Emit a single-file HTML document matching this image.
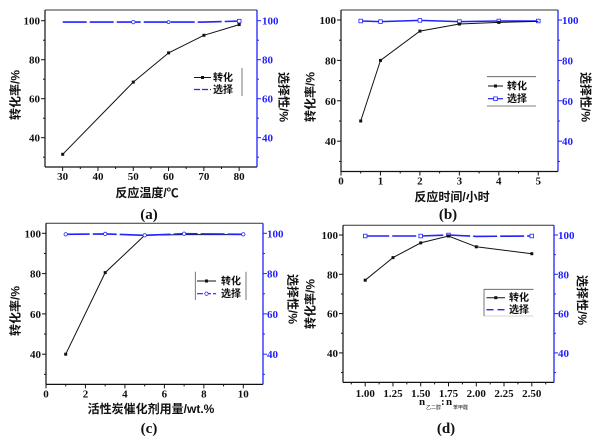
<!DOCTYPE html>
<html><head><meta charset="utf-8">
<style>
html,body{margin:0;padding:0;background:#fff;}
svg{display:block;}
.tk{font-family:"Liberation Serif",serif;font-weight:bold;font-size:11px;}
.ti{font-family:"Liberation Sans","Noto Sans CJK SC",sans-serif;font-size:12px;font-weight:bold;fill:#111;}
.lg{font-family:"Liberation Sans","Noto Sans CJK SC",sans-serif;font-size:10px;font-weight:bold;fill:#111;}
.cap{font-family:"Liberation Serif","Noto Serif CJK SC",serif;font-size:15px;font-weight:bold;fill:#111;}
</style></head>
<body>
<svg width="600" height="443" viewBox="0 0 600 443" xmlns="http://www.w3.org/2000/svg">
<rect width="600" height="443" fill="#fff"/>

<!-- ================= PANEL A ================= -->
<g>
<line x1="45" y1="10" x2="257" y2="10" stroke="#333" stroke-width="1"/>
<line x1="45" y1="10" x2="45" y2="167" stroke="#111" stroke-width="1.2"/>
<line x1="45" y1="167" x2="257" y2="167" stroke="#111" stroke-width="1.2"/>
<line x1="257" y1="10" x2="257" y2="167" stroke="#2222ff" stroke-width="1.3"/>
<g stroke="#111" stroke-width="1">
<line x1="41" y1="20.7" x2="45" y2="20.7"/><line x1="41" y1="59.7" x2="45" y2="59.7"/><line x1="41" y1="98.7" x2="45" y2="98.7"/><line x1="41" y1="137.7" x2="45" y2="137.7"/>
<line x1="43" y1="40.2" x2="45" y2="40.2"/><line x1="43" y1="79.2" x2="45" y2="79.2"/><line x1="43" y1="118.2" x2="45" y2="118.2"/><line x1="43" y1="157.2" x2="45" y2="157.2"/>
<line x1="62.65" y1="167" x2="62.65" y2="171"/><line x1="97.95" y1="167" x2="97.95" y2="171"/><line x1="133.25" y1="167" x2="133.25" y2="171"/><line x1="168.55" y1="167" x2="168.55" y2="171"/><line x1="203.85" y1="167" x2="203.85" y2="171"/><line x1="239.15" y1="167" x2="239.15" y2="171"/>
<line x1="80.3" y1="167" x2="80.3" y2="169"/><line x1="115.6" y1="167" x2="115.6" y2="169"/><line x1="150.9" y1="167" x2="150.9" y2="169"/><line x1="186.2" y1="167" x2="186.2" y2="169"/><line x1="221.5" y1="167" x2="221.5" y2="169"/>
</g>
<g stroke="#2222ff" stroke-width="1">
<line x1="257" y1="20.7" x2="261" y2="20.7"/><line x1="257" y1="59.7" x2="261" y2="59.7"/><line x1="257" y1="98.7" x2="261" y2="98.7"/><line x1="257" y1="137.7" x2="261" y2="137.7"/>
<line x1="257" y1="40.2" x2="259" y2="40.2"/><line x1="257" y1="79.2" x2="259" y2="79.2"/><line x1="257" y1="118.2" x2="259" y2="118.2"/><line x1="257" y1="157.2" x2="259" y2="157.2"/>
</g>
<g class="tk" fill="#111" text-anchor="end">
<text x="40" y="24.5">100</text><text x="40" y="63.5">80</text><text x="40" y="102.5">60</text><text x="40" y="141.5">40</text>
</g>
<g class="tk" fill="#2222ff">
<text x="262" y="24.5">100</text><text x="262" y="63.5">80</text><text x="262" y="102.5">60</text><text x="262" y="141.5">40</text>
</g>
<g class="tk" fill="#111" text-anchor="middle">
<text x="62.65" y="180">30</text><text x="97.95" y="180">40</text><text x="133.25" y="180">50</text><text x="168.55" y="180">60</text><text x="203.85" y="180">70</text><text x="239.15" y="180">80</text>
</g>
<polyline points="62.7,22.1 133.3,22.1 168.6,22.1 203.9,22.1 239.2,21.1" fill="none" stroke="#2222ff" stroke-width="1.6" stroke-dasharray="24,3"/>
<g fill="#fff" stroke="#2222ff" stroke-width="0.8"><circle cx="133.3" cy="22.1" r="1.7"/><circle cx="168.6" cy="22.1" r="1.5"/><rect x="237.4" y="19.3" width="3.6" height="3.6"/></g>
<polyline points="62.7,154.3 133.3,82.1 168.6,52.9 203.9,35.3 239.2,24.6" fill="none" stroke="#111" stroke-width="1"/>
<g fill="#111"><rect x="61.2" y="152.8" width="3" height="3"/><rect x="131.8" y="80.6" width="3" height="3"/><rect x="167.1" y="51.4" width="3" height="3"/><rect x="202.4" y="33.8" width="3" height="3"/><rect x="237.7" y="23.1" width="3" height="3"/></g>
<line x1="242" y1="68" x2="242" y2="96" stroke="#555" stroke-width="0.8"/>
<line x1="194" y1="77.5" x2="211" y2="77.5" stroke="#111" stroke-width="1"/><rect x="201" y="76" width="3" height="3" fill="#111"/>
<text class="lg" x="213" y="81">转化</text>
<line x1="194" y1="89.5" x2="211" y2="89.5" stroke="#2222ff" stroke-width="1.2" stroke-dasharray="6,2"/>
<text class="lg" x="213" y="93">选择</text>
<text class="ti" transform="translate(19.5,95) rotate(-90)" text-anchor="middle">转化率/%</text>
<text class="ti" transform="translate(279.5,97) rotate(90)" text-anchor="middle">选择性/%</text>
<text class="ti" x="147" y="197" text-anchor="middle">反应温度/℃</text>
<text class="cap" x="149" y="219" text-anchor="middle">(a)</text>
</g>

<!-- ================= PANEL B ================= -->
<g>
<line x1="341" y1="10" x2="558" y2="10" stroke="#333" stroke-width="1"/>
<line x1="341" y1="10" x2="341" y2="171.5" stroke="#111" stroke-width="1.2"/>
<line x1="341" y1="171.5" x2="558" y2="171.5" stroke="#111" stroke-width="1.2"/>
<line x1="558" y1="10" x2="558" y2="171.5" stroke="#2222ff" stroke-width="1.3"/>
<g stroke="#111" stroke-width="1">
<line x1="337" y1="20" x2="341" y2="20"/><line x1="337" y1="60.4" x2="341" y2="60.4"/><line x1="337" y1="100.8" x2="341" y2="100.8"/><line x1="337" y1="141.2" x2="341" y2="141.2"/>
<line x1="339" y1="40.2" x2="341" y2="40.2"/><line x1="339" y1="80.6" x2="341" y2="80.6"/><line x1="339" y1="121" x2="341" y2="121"/><line x1="339" y1="161.4" x2="341" y2="161.4"/>
<line x1="341" y1="171.5" x2="341" y2="175.5"/><line x1="380.45" y1="171.5" x2="380.45" y2="175.5"/><line x1="419.9" y1="171.5" x2="419.9" y2="175.5"/><line x1="459.35" y1="171.5" x2="459.35" y2="175.5"/><line x1="498.8" y1="171.5" x2="498.8" y2="175.5"/><line x1="538.25" y1="171.5" x2="538.25" y2="175.5"/>
<line x1="360.7" y1="171.5" x2="360.7" y2="173.5"/><line x1="400.2" y1="171.5" x2="400.2" y2="173.5"/><line x1="439.6" y1="171.5" x2="439.6" y2="173.5"/><line x1="479.1" y1="171.5" x2="479.1" y2="173.5"/><line x1="518.5" y1="171.5" x2="518.5" y2="173.5"/>
</g>
<g stroke="#2222ff" stroke-width="1">
<line x1="558" y1="20" x2="562" y2="20"/><line x1="558" y1="60.4" x2="562" y2="60.4"/><line x1="558" y1="100.8" x2="562" y2="100.8"/><line x1="558" y1="141.2" x2="562" y2="141.2"/>
<line x1="558" y1="40.2" x2="560" y2="40.2"/><line x1="558" y1="80.6" x2="560" y2="80.6"/><line x1="558" y1="121" x2="560" y2="121"/><line x1="558" y1="161.4" x2="560" y2="161.4"/>
</g>
<g class="tk" fill="#111" text-anchor="end">
<text x="336" y="24">100</text><text x="336" y="64.4">80</text><text x="336" y="104.8">60</text><text x="336" y="145.2">40</text>
</g>
<g class="tk" fill="#2222ff">
<text x="562" y="24">100</text><text x="562" y="64.4">80</text><text x="562" y="104.8">60</text><text x="562" y="145.2">40</text>
</g>
<g class="tk" fill="#111" text-anchor="middle">
<text x="341" y="184.5">0</text><text x="380.45" y="184.5">1</text><text x="419.9" y="184.5">2</text><text x="459.35" y="184.5">3</text><text x="498.8" y="184.5">4</text><text x="538.25" y="184.5">5</text>
</g>
<polyline points="360.7,21 380.5,21.6 419.9,20.4 459.4,21.6 498.8,21 538.3,21" fill="none" stroke="#2222ff" stroke-width="1.5"/>
<g fill="#fff" stroke="#2222ff" stroke-width="0.8"><rect x="358.9" y="19.2" width="3.6" height="3.6"/><rect x="378.7" y="19.8" width="3.6" height="3.6"/><rect x="418.1" y="18.6" width="3.6" height="3.6"/><rect x="457.6" y="19.8" width="3.6" height="3.6"/><rect x="497" y="19.2" width="3.6" height="3.6"/><rect x="536.5" y="19.2" width="3.6" height="3.6"/></g>
<polyline points="360.7,121 380.5,60.4 419.9,31.1 459.4,24 498.8,22.4 538.3,21.4" fill="none" stroke="#111" stroke-width="1"/>
<g fill="#111"><rect x="359.2" y="119.5" width="3" height="3"/><rect x="379" y="58.9" width="3" height="3"/><rect x="418.4" y="29.6" width="3" height="3"/><rect x="457.9" y="22.5" width="3" height="3"/><rect x="497.3" y="20.9" width="3" height="3"/></g>
<line x1="487" y1="76.7" x2="536" y2="76.7" stroke="#555" stroke-width="0.8"/>
<line x1="487" y1="106" x2="536" y2="106" stroke="#555" stroke-width="0.8"/>
<line x1="488" y1="86" x2="503" y2="86" stroke="#111" stroke-width="1"/><rect x="494" y="84.5" width="3" height="3" fill="#111"/>
<text class="lg" x="507" y="89.5">转化</text>
<line x1="488" y1="98.7" x2="503" y2="98.7" stroke="#2222ff" stroke-width="1.2"/><rect x="493.7" y="96.9" width="3.6" height="3.6" fill="#fff" stroke="#2222ff" stroke-width="0.8"/>
<text class="lg" x="507" y="102.2">选择</text>
<text class="ti" transform="translate(314.5,97) rotate(-90)" text-anchor="middle">转化率/%</text>
<text class="ti" transform="translate(581.5,97) rotate(90)" text-anchor="middle">选择性/%</text>
<text class="ti" x="452" y="201" text-anchor="middle">反应时间/小时</text>
<text class="cap" x="448" y="219" text-anchor="middle">(b)</text>
</g>

<!-- ================= PANEL C ================= -->
<g>
<line x1="46" y1="223.2" x2="263" y2="223.2" stroke="#333" stroke-width="1"/>
<line x1="46" y1="223.2" x2="46" y2="384.4" stroke="#111" stroke-width="1.2"/>
<line x1="46" y1="384.4" x2="263" y2="384.4" stroke="#111" stroke-width="1.2"/>
<line x1="263" y1="223.2" x2="263" y2="384.4" stroke="#2222ff" stroke-width="1.3"/>
<g stroke="#111" stroke-width="1">
<line x1="42" y1="233.3" x2="46" y2="233.3"/><line x1="42" y1="273.6" x2="46" y2="273.6"/><line x1="42" y1="313.9" x2="46" y2="313.9"/><line x1="42" y1="354.2" x2="46" y2="354.2"/>
<line x1="44" y1="253.45" x2="46" y2="253.45"/><line x1="44" y1="293.75" x2="46" y2="293.75"/><line x1="44" y1="334.05" x2="46" y2="334.05"/><line x1="44" y1="374.35" x2="46" y2="374.35"/>
<line x1="46" y1="384.4" x2="46" y2="388.4"/><line x1="85.46" y1="384.4" x2="85.46" y2="388.4"/><line x1="124.92" y1="384.4" x2="124.92" y2="388.4"/><line x1="164.38" y1="384.4" x2="164.38" y2="388.4"/><line x1="203.84" y1="384.4" x2="203.84" y2="388.4"/><line x1="243.3" y1="384.4" x2="243.3" y2="388.4"/>
<line x1="65.73" y1="384.4" x2="65.73" y2="386.4"/><line x1="105.19" y1="384.4" x2="105.19" y2="386.4"/><line x1="144.65" y1="384.4" x2="144.65" y2="386.4"/><line x1="184.11" y1="384.4" x2="184.11" y2="386.4"/><line x1="223.57" y1="384.4" x2="223.57" y2="386.4"/>
</g>
<g stroke="#2222ff" stroke-width="1">
<line x1="263" y1="233.3" x2="267" y2="233.3"/><line x1="263" y1="273.6" x2="267" y2="273.6"/><line x1="263" y1="313.9" x2="267" y2="313.9"/><line x1="263" y1="354.2" x2="267" y2="354.2"/>
<line x1="263" y1="253.45" x2="265" y2="253.45"/><line x1="263" y1="293.75" x2="265" y2="293.75"/><line x1="263" y1="334.05" x2="265" y2="334.05"/><line x1="263" y1="374.35" x2="265" y2="374.35"/>
</g>
<g class="tk" fill="#111" text-anchor="end">
<text x="41" y="237.3">100</text><text x="41" y="277.6">80</text><text x="41" y="317.9">60</text><text x="41" y="358.2">40</text>
</g>
<g class="tk" fill="#2222ff">
<text x="267" y="237.3">100</text><text x="267" y="277.6">80</text><text x="267" y="317.9">60</text><text x="267" y="358.2">40</text>
</g>
<g class="tk" fill="#111" text-anchor="middle">
<text x="46" y="397.5">0</text><text x="85.46" y="397.5">2</text><text x="124.92" y="397.5">4</text><text x="164.38" y="397.5">6</text><text x="203.84" y="397.5">8</text><text x="243.3" y="397.5">10</text>
</g>
<polyline points="65.7,354.2 105.2,272.6 144.7,235.3 184.1,234.6 243.3,234.6" fill="none" stroke="#111" stroke-width="1"/>
<g fill="#111"><rect x="64.2" y="352.7" width="3" height="3"/><rect x="103.7" y="271.1" width="3" height="3"/><rect x="143.2" y="233.8" width="3" height="3"/></g>
<polyline points="65.7,234.3 105.2,233.9 144.7,235.3 184.1,233.7 243.3,234.3" fill="none" stroke="#2222ff" stroke-width="1.6" stroke-dasharray="24,3"/>
<g fill="#fff" stroke="#2222ff" stroke-width="0.8"><circle cx="65.7" cy="234.3" r="1.7"/><circle cx="105.2" cy="233.9" r="1.7"/><circle cx="144.7" cy="235.3" r="1.7"/><circle cx="184.1" cy="233.7" r="1.7"/><circle cx="243.3" cy="234.3" r="1.7"/></g>
<line x1="195.3" y1="271.7" x2="195.3" y2="300" stroke="#555" stroke-width="0.8"/>
<line x1="246" y1="271.7" x2="246" y2="300" stroke="#555" stroke-width="0.8"/>
<line x1="197" y1="281" x2="216" y2="281" stroke="#111" stroke-width="1"/><rect x="205" y="279.5" width="3" height="3" fill="#111"/>
<text class="lg" x="221" y="284.5">转化</text>
<line x1="197" y1="293.7" x2="216" y2="293.7" stroke="#2222ff" stroke-width="1.2" stroke-dasharray="6,2"/><circle cx="206.5" cy="293.7" r="1.7" fill="#fff" stroke="#2222ff" stroke-width="0.8"/>
<text class="lg" x="221" y="297.2">选择</text>
<text class="ti" transform="translate(19.5,311) rotate(-90)" text-anchor="middle">转化率/%</text>
<text class="ti" transform="translate(288.5,299) rotate(90)" text-anchor="middle">选择性/%</text>
<text class="ti" x="151" y="413" text-anchor="middle">活性炭催化剂用量/wt.%</text>
<text class="cap" x="149" y="433" text-anchor="middle">(c)</text>
</g>

<!-- ================= PANEL D ================= -->
<g>
<line x1="343" y1="225.2" x2="554" y2="225.2" stroke="#333" stroke-width="1"/>
<line x1="343" y1="225.2" x2="343" y2="382.4" stroke="#111" stroke-width="1.2"/>
<line x1="343" y1="382.4" x2="554" y2="382.4" stroke="#111" stroke-width="1.2"/>
<line x1="554" y1="225.2" x2="554" y2="382.4" stroke="#2222ff" stroke-width="1.3"/>
<g stroke="#111" stroke-width="1">
<line x1="339" y1="235" x2="343" y2="235"/><line x1="339" y1="274.3" x2="343" y2="274.3"/><line x1="339" y1="313.6" x2="343" y2="313.6"/><line x1="339" y1="352.9" x2="343" y2="352.9"/>
<line x1="341" y1="254.65" x2="343" y2="254.65"/><line x1="341" y1="293.95" x2="343" y2="293.95"/><line x1="341" y1="333.25" x2="343" y2="333.25"/><line x1="341" y1="372.55" x2="343" y2="372.55"/>
<line x1="365.2" y1="382.4" x2="365.2" y2="386.4"/><line x1="392.97" y1="382.4" x2="392.97" y2="386.4"/><line x1="420.7" y1="382.4" x2="420.7" y2="386.4"/><line x1="448.5" y1="382.4" x2="448.5" y2="386.4"/><line x1="476.3" y1="382.4" x2="476.3" y2="386.4"/><line x1="504" y1="382.4" x2="504" y2="386.4"/><line x1="531.8" y1="382.4" x2="531.8" y2="386.4"/>
<line x1="351.3" y1="382.4" x2="351.3" y2="384.4"/><line x1="379.1" y1="382.4" x2="379.1" y2="384.4"/><line x1="406.8" y1="382.4" x2="406.8" y2="384.4"/><line x1="434.6" y1="382.4" x2="434.6" y2="384.4"/><line x1="462.4" y1="382.4" x2="462.4" y2="384.4"/><line x1="490.2" y1="382.4" x2="490.2" y2="384.4"/><line x1="517.9" y1="382.4" x2="517.9" y2="384.4"/><line x1="545.7" y1="382.4" x2="545.7" y2="384.4"/>
</g>
<g stroke="#2222ff" stroke-width="1">
<line x1="554" y1="235" x2="558" y2="235"/><line x1="554" y1="274.3" x2="558" y2="274.3"/><line x1="554" y1="313.6" x2="558" y2="313.6"/><line x1="554" y1="352.9" x2="558" y2="352.9"/>
<line x1="554" y1="254.65" x2="556" y2="254.65"/><line x1="554" y1="293.95" x2="556" y2="293.95"/><line x1="554" y1="333.25" x2="556" y2="333.25"/><line x1="554" y1="372.55" x2="556" y2="372.55"/>
</g>
<g class="tk" fill="#111" text-anchor="end">
<text x="338" y="239">100</text><text x="338" y="278.3">80</text><text x="338" y="317.6">60</text><text x="338" y="356.9">40</text>
</g>
<g class="tk" fill="#2222ff">
<text x="558" y="239">100</text><text x="558" y="278.3">80</text><text x="558" y="317.6">60</text><text x="558" y="356.9">40</text>
</g>
<g class="tk" fill="#111" text-anchor="middle">
<text x="365.2" y="397">1.00</text><text x="392.97" y="397">1.25</text><text x="420.7" y="397">1.50</text><text x="448.5" y="397">1.75</text><text x="476.3" y="397">2.00</text><text x="504" y="397">2.25</text><text x="531.8" y="397">2.50</text>
</g>
<polyline points="365.2,236 393,236 420.7,236 448.5,235 476.3,236.4 531.8,236" fill="none" stroke="#2222ff" stroke-width="1.6" stroke-dasharray="24,3"/>
<g fill="#fff" stroke="#2222ff" stroke-width="0.8"><rect x="363.4" y="234.2" width="3.6" height="3.6"/><rect x="418.9" y="234.2" width="3.6" height="3.6"/><rect x="446.7" y="233.2" width="3.6" height="3.6"/><rect x="530" y="234.2" width="3.6" height="3.6"/></g>
<polyline points="365.2,280.2 393,257.6 420.7,242.9 448.5,236 476.3,246.8 531.8,253.7" fill="none" stroke="#111" stroke-width="1"/>
<g fill="#111"><rect x="363.7" y="278.7" width="3" height="3"/><rect x="391.5" y="256.1" width="3" height="3"/><rect x="419.2" y="241.4" width="3" height="3"/><rect x="447" y="234.5" width="3" height="3"/><rect x="474.8" y="245.3" width="3" height="3"/><rect x="530.3" y="252.2" width="3" height="3"/></g>
<line x1="484" y1="289.3" x2="533.5" y2="289.3" stroke="#555" stroke-width="0.8"/>
<line x1="484" y1="289.3" x2="484" y2="316" stroke="#555" stroke-width="0.8"/>
<line x1="484" y1="316" x2="533.5" y2="316" stroke="#aaa" stroke-width="0.6"/>
<line x1="486.5" y1="297.7" x2="505" y2="297.7" stroke="#111" stroke-width="1"/><rect x="494.3" y="296.2" width="3" height="3" fill="#111"/>
<text class="lg" x="509" y="301.2">转化</text>
<line x1="486.5" y1="309.7" x2="505" y2="309.7" stroke="#2222ff" stroke-width="1.4" stroke-dasharray="7,4"/>
<text class="lg" x="509" y="313.2">选择</text>
<text class="ti" transform="translate(314.5,304) rotate(-90)" text-anchor="middle">转化率/%</text>
<text class="ti" transform="translate(578,300) rotate(90)" text-anchor="middle">选择性/%</text>
<text x="419" y="405" style="font-family:'Liberation Serif',serif;font-weight:bold;font-size:11px;" fill="#111">n</text>
<text x="426" y="409" style="font-family:'Liberation Sans','Noto Sans CJK SC',sans-serif;font-size:5px;" fill="#111">乙二醇</text>
<text x="441" y="405" style="font-family:'Liberation Serif',serif;font-weight:bold;font-size:11px;" fill="#111">:</text>
<text x="446" y="405" style="font-family:'Liberation Serif',serif;font-weight:bold;font-size:11px;" fill="#111">n</text>
<text x="453" y="409" style="font-family:'Liberation Sans','Noto Sans CJK SC',sans-serif;font-size:5px;" fill="#111">苯甲醛</text>
<text class="cap" x="446" y="433" text-anchor="middle">(d)</text>
</g>
</svg>
</body></html>
